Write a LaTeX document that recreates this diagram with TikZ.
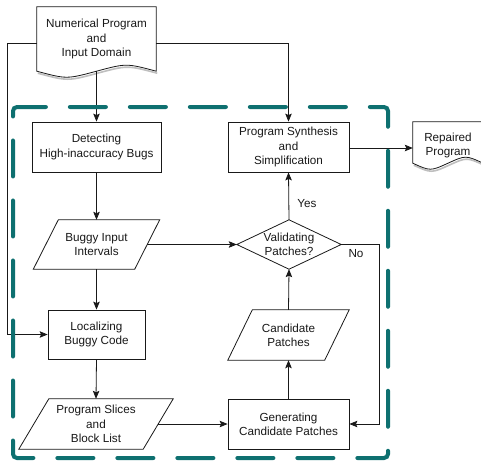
\documentclass[tikz,border=0pt]{standalone}
\usepackage{fontspec}
\setmainfont{Liberation Sans}
\usetikzlibrary{arrows.meta,calc}
\definecolor{tealdash}{RGB}{14,112,112}
\definecolor{ink}{RGB}{25,25,25}
\begin{document}
\begin{tikzpicture}[x=1pt,y=-1pt,
  lbl/.style={font=\fontsize{11.7}{14.3}\selectfont, text=ink, align=center, inner sep=0pt},
  box/.style={lbl, draw=ink, line width=0.8pt, rectangle},
  plain/.style={lbl, rectangle},
  shp/.style={draw=ink, line width=0.8pt, line join=miter},
  conn/.style={draw=ink, line width=0.8pt, -{Stealth[length=8pt,width=6.5pt,inset=1.5pt]}},
  lab/.style={font=\fontsize{11.7}{14.3}\selectfont, text=ink, inner sep=0pt}]
\useasboundingbox (0,0) rectangle (481,461);
\fill[white] (0,0) rectangle (481,461);

% nodes
\node[plain, minimum width=119pt, minimum height=64pt] (num) at (96.5,39) {Numerical Program\\and\\Input Domain};
\node[box, minimum width=129pt, minimum height=50pt] (det) at (96.5,147) {Detecting\\High-inaccuracy Bugs};
\node[box, minimum width=121pt, minimum height=50pt] (syn) at (288.5,147) {Program Synthesis\\and\\Simplification};
\node[plain, minimum width=70pt, minimum height=47pt] (rep) at (448,145.5) {Repaired\\Program};
\node[plain, minimum width=101pt, minimum height=49pt] (bi) at (96.5,244.5) {Buggy Input\\Intervals};
\node[plain, minimum width=104pt, minimum height=49pt] (val) at (289,244.5) {Validating\\Patches?};
\node[box, minimum width=97pt, minimum height=49pt] (loc) at (96.5,334.5) {Localizing\\Buggy Code};
\node[plain, minimum width=96.5pt, minimum height=50pt] (cp) at (288.5,335) {Candidate\\Patches};
\node[plain, minimum width=124pt, minimum height=50pt] (ps) at (96,424) {Program Slices\\and\\Block List};
\node[box, minimum width=121pt, minimum height=50pt] (gen) at (288.5,424) {Generating\\Candidate Patches};

% parallelograms
\draw[shp] ($(bi.north west)+(12.5,0)$) -- ($(bi.north east)+(12.5,0)$) -- ($(bi.south east)+(-12.5,0)$) -- ($(bi.south west)+(-12.5,0)$) -- cycle;
\draw[shp] ($(cp.north west)+(12.25,0)$) -- ($(cp.north east)+(12.25,0)$) -- ($(cp.south east)+(-12.25,0)$) -- ($(cp.south west)+(-12.25,0)$) -- cycle;
\draw[shp] ($(ps.north west)+(15,0)$) -- ($(ps.north east)+(15,0)$) -- ($(ps.south east)+(-15,0)$) -- ($(ps.south west)+(-15,0)$) -- cycle;
% diamond
\draw[shp] (val.west) -- (val.north) -- (val.east) -- (val.south) -- cycle;
% documents (with faint shadow)
\foreach \n/\d in {num/0,rep/-6}{
  \coordinate (\n-sw) at ($(\n.south west)+(0,\d)$);
  \coordinate (\n-s) at ($(\n.south)+(0,\d)$);
  \coordinate (\n-se) at ($(\n.south east)+(0,\d)$);
  \draw[black!25, line width=1.6pt] ($(\n-se)+(1,2)$) .. controls ($(\n-s)!0.5!(\n-se)+(1,-6)$) .. ($(\n-s)+(1,2)$) .. controls ($(\n-s)!0.5!(\n-sw)+(1,10)$) .. ($(\n-sw)+(1,2)$);
  \draw[shp] (\n-sw) -- (\n.north west) -- (\n.north east) -- (\n-se)
    .. controls ($(\n-s)!0.5!(\n-se)+(0,-8)$) .. (\n-s)
    .. controls ($(\n-s)!0.5!(\n-sw)+(0,8)$) .. (\n-sw) -- cycle;
}

% connectors
\coordinate (lt) at (7,43);
\coordinate (nr) at (379,244.5);
\draw[conn] (num.south) -- (det.north);
\draw[conn] ([yshift=-4pt]num.west) -- (lt) |- (loc.west);
\draw[conn] ([yshift=-4pt]num.east) -| (syn.north);
\draw[conn] (det.south) -- (bi.north);
\draw[conn] (bi.south) -- (loc.north);
\draw[conn] (loc.south) -- (ps.north);
\draw[conn] (ps.east) -- (gen.west);
\draw[conn] (gen.north) -- (cp.south);
\draw[conn] (cp.north) -- (val.south);
\draw[conn] (val.north) -- (syn.south);
\draw[conn] (bi.east) -- (val.west);
\draw[conn] (val.east) -- (nr) |- (gen.east);
\draw[conn] ([yshift=-1pt]syn.east) -- ([yshift=-1pt]syn.east -| rep.west);

\node[lab] (yes) at (307,204) {Yes};
\node[lab] (no) at (356,254) {No};

% dashed region
\draw[tealdash, line width=4pt, line cap=round, rounded corners=4pt, dash pattern=on 36pt off 24pt]
  (13,116) -- (13,107) -- (388,107) -- (388,458) -- (13,458) -- cycle;
\end{tikzpicture}
\end{document}
